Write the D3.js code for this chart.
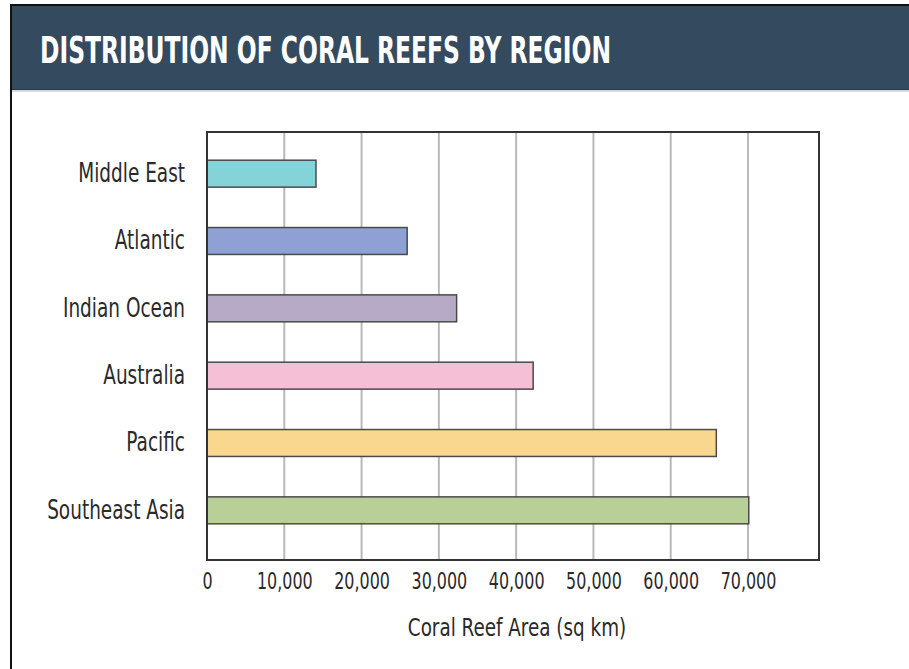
<!DOCTYPE html>
<html>
<head>
<meta charset="utf-8">
<script src="https://cdn.jsdelivr.net/npm/d3@7"></script>
<style>
  body { margin: 0; background: #fff; }
  svg { display: block; }
</style>
</head>
<body>
<div id="container"></div>
<script>
// Distribution of coral reefs by region (sq km)

//### DATA ###
const regions = [ 'Middle East', 'Atlantic', 'Indian Ocean', 'Australia', 'Pacific', 'Southeast Asia' ];
const areas = [ 14100, 25900, 32300, 42200, 65900, 70100 ];
const barColors = [ '#84d3d9', '#8ea0d4', '#b7aac6', '#f5bfd6', '#f9d78f', '#b8cf97' ];
const tickValues = [ 0, 10000, 20000, 30000, 40000, 50000, 60000, 70000 ];

//### LAYOUT ###
const width = 909;
const height = 669;
const plot = { left: 207, right: 819, top: 132, bottom: 560 };
const fontNarrow = '"DejaVu Sans Condensed", "Liberation Sans Narrow", sans-serif';

//>>> squeeze a text horizontally, like the condensed face in the original
function condense ( sel, ratio ) {
  sel.each( function () {
    const w = this.getComputedTextLength();
    d3.select( this )
      .attr( 'textLength', w * ratio )
      .attr( 'lengthAdjust', 'spacingAndGlyphs' );
  } );
}

const svg = d3.select( '#container' )
  .append( 'svg' )
  .attr( 'width', width )
  .attr( 'height', height );

//_____ FRAME AND HEADER _____
svg.append( 'rect' )
  .attr( 'x', 12 ).attr( 'y', 6 )
  .attr( 'width', width - 12 ).attr( 'height', 83 )
  .attr( 'fill', '#344a5e' );
svg.append( 'line' ) //--- dark edge under the header
  .attr( 'x1', 12 ).attr( 'x2', width ).attr( 'y1', 89.5 ).attr( 'y2', 89.5 )
  .attr( 'stroke', '#27384a' ).attr( 'stroke-width', 1 );
svg.append( 'line' ) //--- soft shadow
  .attr( 'x1', 12 ).attr( 'x2', width ).attr( 'y1', 91 ).attr( 'y2', 91 )
  .attr( 'stroke', '#d8d8d8' ).attr( 'stroke-width', 2 );
svg.append( 'line' ) //--- top border
  .attr( 'x1', 10 ).attr( 'x2', width ).attr( 'y1', 5 ).attr( 'y2', 5 )
  .attr( 'stroke', '#111' ).attr( 'stroke-width', 2 );
svg.append( 'line' ) //--- left border
  .attr( 'x1', 11 ).attr( 'x2', 11 ).attr( 'y1', 4 ).attr( 'y2', height )
  .attr( 'stroke', '#111' ).attr( 'stroke-width', 2 );

svg.append( 'text' )
  .attr( 'x', 40 ).attr( 'y', 63 )
  .attr( 'textLength', 571 )
  .attr( 'lengthAdjust', 'spacingAndGlyphs' )
  .style( 'font-family', fontNarrow )
  .style( 'font-weight', 'bold' )
  .style( 'font-size', '37px' )
  .style( 'fill', '#ffffff' )
  .text( 'DISTRIBUTION OF CORAL REEFS BY REGION' );

//_____ SCALES _____
const x = d3.scaleLinear()
  .domain( [ 0, 70000 ] )
  .range( [ plot.left, 748 ] );

const y = d3.scaleBand()
  .domain( regions )
  .range( [ 140, 544 ] )
  .paddingInner( 0.6 )
  .paddingOuter( 0.3 );

//_____ GRIDLINES _____
svg.append( 'g' )
  .selectAll( 'line' )
  .data( tickValues.slice( 1 ) )
  .enter()
  .append( 'line' )
  .attr( 'x1', d => x( d ) ).attr( 'x2', d => x( d ) )
  .attr( 'y1', plot.top ).attr( 'y2', plot.bottom )
  .attr( 'stroke', '#b9b9b9' )
  .attr( 'stroke-width', 2 );

//_____ BARS _____
svg.append( 'g' )
  .selectAll( 'rect' )
  .data( regions )
  .enter()
  .append( 'rect' )
  .attr( 'x', x( 0 ) )
  .attr( 'y', d => y( d ) )
  .attr( 'width', ( d, i ) => x( areas[ i ] ) - x( 0 ) )
  .attr( 'height', y.bandwidth() )
  .attr( 'fill', ( d, i ) => barColors[ i ] )
  .attr( 'stroke', '#4a4a4a' )
  .attr( 'stroke-width', 1.5 );

//_____ PLOT BORDER _____
svg.append( 'rect' )
  .attr( 'x', plot.left ).attr( 'y', plot.top )
  .attr( 'width', plot.right - plot.left )
  .attr( 'height', plot.bottom - plot.top )
  .attr( 'fill', 'none' )
  .attr( 'stroke', '#333' )
  .attr( 'stroke-width', 2 );

//_____ AXES _____
const xAxis = svg.append( 'g' )
  .attr( 'transform', `translate(0, ${plot.bottom})` )
  .call( d3.axisBottom( x ).tickValues( tickValues ).tickSize( 0 ).tickPadding( 13 )
    .tickFormat( d3.format( ',' ) ) );
xAxis.select( '.domain' ).remove();
xAxis.selectAll( 'text' )
  .style( 'font-family', fontNarrow )
  .style( 'font-size', '23px' )
  .style( 'fill', '#2a2a2a' )
  .call( condense, 0.77 );

const yAxis = svg.append( 'g' )
  .attr( 'transform', `translate(${plot.left}, 0)` )
  .call( d3.axisLeft( y ).tickSize( 0 ).tickPadding( 22 ) );
yAxis.select( '.domain' ).remove();
yAxis.selectAll( 'text' )
  .style( 'font-family', fontNarrow )
  .style( 'font-size', '26px' )
  .style( 'fill', '#2a2a2a' )
  .call( condense, 0.79 );

svg.append( 'text' )
  .attr( 'x', 517 ).attr( 'y', 636 )
  .attr( 'text-anchor', 'middle' )
  .style( 'font-family', fontNarrow )
  .style( 'font-size', '24px' )
  .style( 'fill', '#2a2a2a' )
  .text( 'Coral Reef Area (sq km)' )
  .call( condense, 0.85 );
</script>
</body>
</html>
